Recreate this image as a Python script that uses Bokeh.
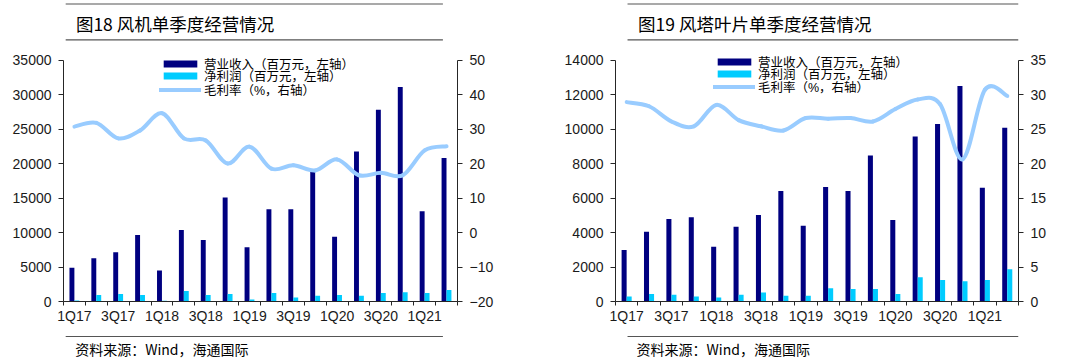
from bokeh.plotting import figure
from bokeh.models import (Range1d, LinearAxis, FixedTicker, Legend, LegendItem,
                          Label, BoxAnnotation, ColumnDataSource)
from bokeh.transform import dodge
from bokeh.layouts import row, column
from bokeh.embed import file_html
from bokeh.resources import INLINE

# ---------------- data ----------------
quarters = ["1Q17", "2Q17", "3Q17", "4Q17", "1Q18", "2Q18", "3Q18", "4Q18",
            "1Q19", "2Q19", "3Q19", "4Q19", "1Q20", "2Q20", "3Q20", "4Q20",
            "1Q21", "2Q21"]

turbine_revenue = [4910, 6270, 7130, 9630, 4480, 10350, 8910, 15070, 7850,
                   13380, 13380, 18770, 9390, 21760, 27780, 31100, 13100, 20790]
turbine_profit = [150, 960, 1100, 960, 100, 1540, 960, 1100, 290,
                  1250, 580, 820, 960, 820, 1250, 1350, 1250, 1680]
turbine_margin = [30.7, 31.8, 27.3, 29.6, 34.6, 27.3, 26.7, 20.0, 24.9,
                  18.5, 19.5, 18.0, 21.2, 16.6, 17.3, 16.6, 23.8, 25.0]

tower_revenue = [2990, 4040, 4780, 4890, 3180, 4330, 5010, 6410, 4390,
                 6640, 6410, 8460, 4720, 9570, 10300, 12500, 6590, 10070]
tower_profit = [290, 440, 385, 290, 230, 385, 520, 330, 330,
                770, 730, 730, 440, 1400, 1250, 1170, 1250, 1870]
tower_margin = [28.9, 28.3, 26.1, 25.4, 28.5, 26.3, 25.4, 24.8, 26.6,
                26.5, 26.6, 26.1, 27.9, 29.3, 28.6, 20.6, 30.7, 29.8]

legend_labels = ["营业收入（百万元，左轴）", "净利润（百万元，左轴）", "毛利率（%，右轴）"]
titles = ["图18 风机单季度经营情况", "图19 风塔叶片单季度经营情况"]
source_text = "资料来源：Wind，海通国际"

turbine_left_ticks = [0, 5000, 10000, 15000, 20000, 25000, 30000, 35000]
turbine_right_ticks = [-20, -10, 0, 10, 20, 30, 40, 50]
tower_left_ticks = [0, 2000, 4000, 6000, 8000, 10000, 12000, 14000]
tower_right_ticks = [0, 5, 10, 15, 20, 25, 30, 35]

NAVY = "#000080"
CYAN = "#00CCFF"
LINE = "#99CCFF"
AXIS = "#262626"
CJK = "Noto Sans CJK SC"
LATIN = "Liberation Sans"
MIXED = "Liberation Sans, Noto Sans CJK SC"

# layout constants (pixels)
TITLE_H = 45
CHART_H = 281
SRC_H = 33
CHART_TOP = 7          # frame top inside chart figure (room for legend)
CHART_BOTTOM = 24
TICK_SPAN = 242.4      # pixels between lowest and highest y tick
ROW_H = 20             # legend row height


def smooth_segments(xs, ys):
    n = len(xs)
    pts = list(zip(xs, ys))

    def pt(i):
        return pts[min(max(i, 0), n - 1)]
    out = {k: [] for k in ("x0", "y0", "x1", "y1", "cx0", "cy0", "cx1", "cy1")}
    for i in range(n - 1):
        a, b, c, d = pt(i - 1), pt(i), pt(i + 1), pt(i + 2)
        out["x0"].append(b[0]); out["y0"].append(b[1])
        out["x1"].append(c[0]); out["y1"].append(c[1])
        out["cx0"].append(b[0] + (c[0] - a[0]) / 6.0)
        out["cy0"].append(b[1] + (c[1] - a[1]) / 6.0)
        out["cx1"].append(c[0] - (d[0] - b[0]) / 6.0)
        out["cy1"].append(c[1] - (d[1] - b[1]) / 6.0)
    return out


def style_y(ax, ticks):
    ax.ticker = FixedTicker(ticks=ticks)
    ax.bounds = (ticks[0], ticks[-1])
    ax.axis_line_color = AXIS
    ax.major_tick_line_color = AXIS
    ax.minor_tick_line_color = None
    ax.major_tick_in = 0
    ax.major_tick_out = 5
    ax.major_label_text_font = LATIN
    ax.major_label_text_font_size = "14px"
    ax.major_label_text_color = "#1a1a1a"
    ax.major_label_standoff = 7


def band(width, height, y_top):
    p = figure(width=width, height=height, output_backend="svg",
               toolbar_location=None, x_range=Range1d(0, width),
               y_range=Range1d(y_top + height, y_top),
               x_axis_type=None, y_axis_type=None, min_border=0)
    p.outline_line_color = None
    p.background_fill_color = "white"
    p.border_fill_color = "white"
    return p


def rule(p, x0, x1, yc, thick, color):
    p.add_layout(BoxAnnotation(left=x0, right=x1, top=yc - thick / 2,
                               bottom=yc + thick / 2, fill_color=color,
                               fill_alpha=1, line_color=None))


def make_panel(width, b_left, b_right, rev, prof, margin, left_ticks,
               right_ticks, title, title_x, line_x0, line_x1, src_x,
               legend_x, legend_rows):
    n = len(quarters)
    frame_h = CHART_H - CHART_TOP - CHART_BOTTOM
    grow = frame_h / TICK_SPAN

    # ---- title band ----
    t = band(width, TITLE_H, 0)
    rule(t, line_x0, line_x1, 3.5, 1.6, "#8c8c8c")
    t.add_layout(Label(x=title_x, y=22.5, text=title, text_font=CJK,
                       text_font_size="17.5px", text_color="#000000",
                       text_baseline="middle", text_align="left"))
    rule(t, line_x0, line_x1, 39.3, 1.2, "#555555")

    # ---- chart ----
    l0, l1 = left_ticks[0], left_ticks[-1]
    r0, r1 = right_ticks[0], right_ticks[-1]
    p = figure(width=width, height=CHART_H, output_backend="svg",
               toolbar_location=None,
               x_range=Range1d(-0.5, n - 0.5),
               y_range=Range1d(l0, l0 + (l1 - l0) * grow),
               min_border_left=b_left, min_border_right=b_right,
               min_border_top=CHART_TOP, min_border_bottom=CHART_BOTTOM)
    p.outline_line_color = None
    p.background_fill_color = "white"
    p.border_fill_color = "white"
    p.xgrid.visible = False
    p.ygrid.visible = False

    p.extra_y_ranges = {"right": Range1d(r0, r0 + (r1 - r0) * grow)}
    style_y(p.yaxis[0], left_ticks)
    rax = LinearAxis(y_range_name="right")
    style_y(rax, right_ticks)
    p.add_layout(rax, "right")

    xa = p.xaxis[0]
    xa.ticker = FixedTicker(ticks=list(range(0, n, 2)),
                            minor_ticks=[i - 0.5 for i in range(n + 1)])
    xa.major_label_overrides = {i: quarters[i] for i in range(0, n, 2)}
    xa.axis_line_color = AXIS
    xa.major_tick_line_color = None
    xa.major_tick_in = 0
    xa.major_tick_out = 0
    xa.minor_tick_line_color = AXIS
    xa.minor_tick_in = 0
    xa.minor_tick_out = 4
    xa.major_label_text_font = LATIN
    xa.major_label_text_font_size = "14px"
    xa.major_label_text_color = "#1a1a1a"
    xa.major_label_standoff = 2

    src = ColumnDataSource(dict(x=list(range(n)), rev=rev, prof=prof))
    r_rev = p.vbar(x=dodge("x", -0.115, range=p.x_range), top="rev", width=0.225,
                   source=src, fill_color=NAVY, line_color=None)
    r_prof = p.vbar(x=dodge("x", 0.11, range=p.x_range), top="prof", width=0.225,
                    source=src, fill_color=CYAN, line_color=None)
    seg = smooth_segments(list(range(n)), margin)
    r_line = p.bezier(source=ColumnDataSource(seg), x0="x0", y0="y0", x1="x1",
                      y1="y1", cx0="cx0", cy0="cy0", cx1="cx1", cy1="cy1",
                      y_range_name="right", line_color=LINE, line_width=4,
                      line_cap="round")

    # one legend per row so that row spacing follows the reference
    frame_bottom = CHART_H - CHART_BOTTOM
    for lab, rend, yc in zip(legend_labels, [r_rev, r_prof, r_line], legend_rows):
        vy = frame_bottom - (yc - TITLE_H) - ROW_H / 2
        lg = Legend(items=[LegendItem(label=lab, renderers=[rend])],
                    location=(legend_x, vy), orientation="vertical",
                    glyph_width=42, glyph_height=9, label_height=ROW_H,
                    label_standoff=3, spacing=0, padding=0, margin=0,
                    label_text_font=MIXED, label_text_font_size="12.5px",
                    label_text_color="#000000",
                    background_fill_alpha=0, border_line_color=None)
        p.add_layout(lg)

    # ---- source band ----
    s = band(width, SRC_H, TITLE_H + CHART_H)
    rule(s, line_x0, line_x1, 336.0, 1.2, "#555555")
    s.add_layout(Label(x=src_x, y=348.5, text=source_text, text_font=CJK,
                       text_font_size="14px", text_color="#000000",
                       text_baseline="middle", text_align="left"))
    return column(t, p, s, spacing=0)


left = make_panel(540, 63, 83, turbine_revenue, turbine_profit, turbine_margin,
                  turbine_left_ticks, turbine_right_ticks, titles[0],
                  title_x=17, line_x0=3, line_x1=520, src_x=16,
                  legend_x=96, legend_rows=[64.0, 76.5, 90.0])
right = make_panel(536, 75, 58, tower_revenue, tower_profit, tower_margin,
                   tower_left_ticks, tower_right_ticks, titles[1],
                   title_x=30, line_x0=16, line_x1=536, src_x=28,
                   legend_x=98, legend_rows=[62.5, 74.8, 87.0])

layout = row(left, right, spacing=0)
open("out.html", "w").write(file_html(layout, INLINE))
